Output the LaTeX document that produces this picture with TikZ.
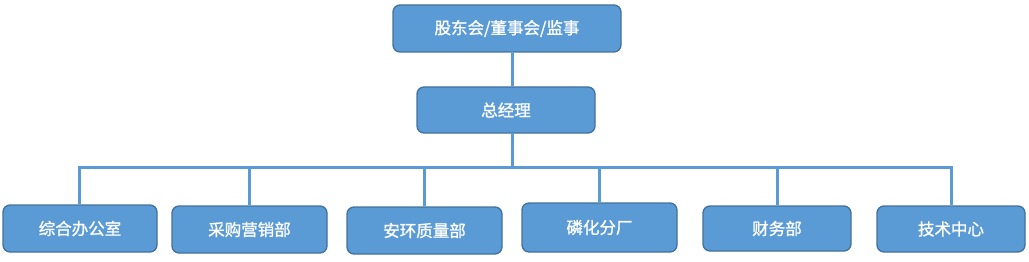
\documentclass[tikz,border=0pt]{standalone}
\usepackage{fontspec}
\newfontfamily\cjk{Noto Sans CJK SC}[FakeBold=1.2]
\usepackage{tikz}
\usetikzlibrary{calc}
\definecolor{boxblue}{HTML}{5B9BD5}
\definecolor{boxedge}{HTML}{41719C}
\begin{document}
\begin{tikzpicture}[x=1pt,y=-1pt,
	box/.style={draw=boxedge,fill=boxblue,line width=1.3pt,rounded corners=7pt,text=white,font=\cjk\fontsize{16.5}{19}\selectfont,inner sep=0pt},
	link/.style={draw=boxblue,line width=3pt}]
	\useasboundingbox (0,0) rectangle (1029,262);
    \node[box,minimum width=228pt,minimum height=47pt] (board) at (507,28.5) {股东会/董事会/监事};
    \node[box,minimum width=178pt,minimum height=46pt] (gm) at (506,110) {总经理};
    \coordinate (trunk) at (512,167);
    \node[box,minimum width=154pt,minimum height=47pt] (office) at (80,228.5) {综合办公室};
    \node[box,minimum width=155pt,minimum height=47pt] (sales) at (249.5,229.5) {采购营销部};
    \node[box,minimum width=155pt,minimum height=47pt] (safety) at (424.5,230.5) {安环质量部};
    \node[box,minimum width=155pt,minimum height=49pt] (plant) at (599.5,227.5) {磷化分厂};
    \node[box,minimum width=148pt,minimum height=45pt] (finance) at (777,228.5) {财务部};
    \node[box,minimum width=148pt,minimum height=46pt] (tech) at (951,229) {技术中心};
    % connectors
    \draw[link] (board.south -| trunk) -- (gm.north -| trunk);
    \draw[link] (gm.south -| trunk) -- (trunk);
    \draw[link] (office.north -| 79,0) |- (tech.north |- trunk) -- (tech.north);
    \draw[link] (sales.north) -- (sales.north |- trunk);
    \draw[link] (safety.north) -- (safety.north |- trunk);
    \draw[link] (plant.north) -- (plant.north |- trunk);
    \draw[link] (finance.north) -- (finance.north |- trunk);
\end{tikzpicture}
\end{document}
